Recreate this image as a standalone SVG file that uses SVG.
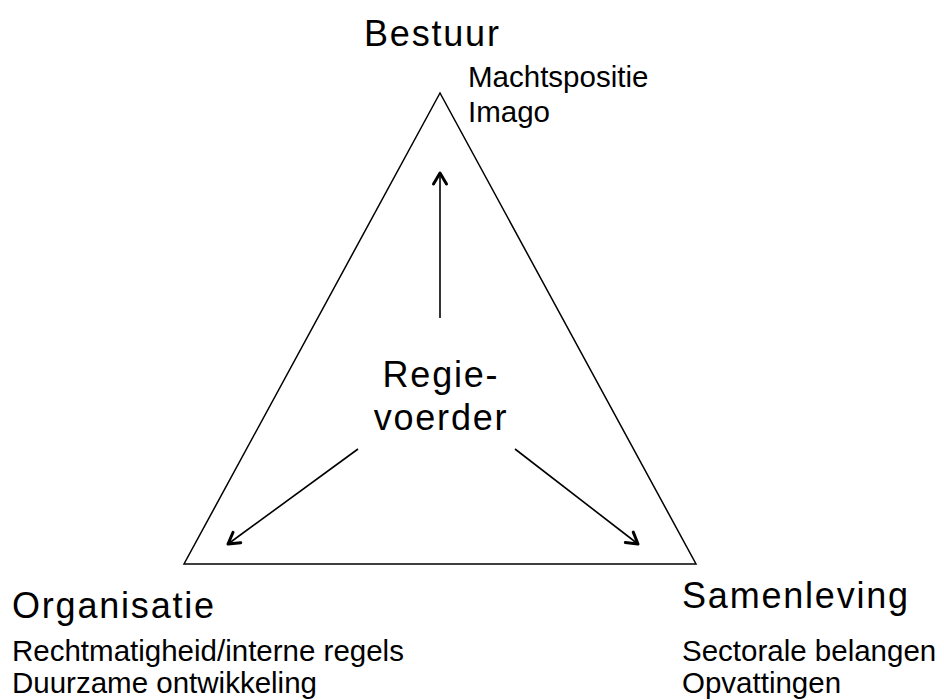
<svg xmlns="http://www.w3.org/2000/svg" width="944" height="700" viewBox="0 0 944 700">
<style>
text{font-family:"Liberation Sans",Arial,Helvetica,sans-serif;fill:#000}
.h{font-size:36px;letter-spacing:1.8px}
.s{font-size:29.5px}
.ln{fill:none;stroke:#000;stroke-width:1.6}
</style>
<defs>
<marker id="ah" markerUnits="userSpaceOnUse" markerWidth="20" markerHeight="20" refX="12" refY="7" orient="auto" overflow="visible">
<path d="M1,0.5 L12,7 L1,13.5" fill="none" stroke="#000" stroke-width="3" stroke-linecap="round" stroke-linejoin="round"/>
</marker>
</defs>
<rect width="944" height="700" fill="#fff"/>
<g id="triangle">
<polygon points="440,93 184,564 696,564" fill="none" stroke="#000" stroke-width="1.5"/>
</g>
<g id="bestuur">
<text class="h" x="364" y="46">Bestuur</text>
<text class="s" x="468" y="87" font-size="30">Machtspositie</text>
<text class="s" x="468" y="122" font-size="30">Imago</text>
</g>
<g id="organisatie">
<text class="h" x="12" y="618">Organisatie</text>
<text class="s" x="12" y="661" font-size="29">Rechtmatigheid/interne regels</text>
<text class="s" x="12" y="693" font-size="29">Duurzame ontwikkeling</text>
</g>
<g id="samenleving">
<text class="h" x="682" y="608">Samenleving</text>
<text class="s" x="682" y="661">Sectorale belangen</text>
<text class="s" x="682" y="693">Opvattingen</text>
</g>
<g id="regievoerder">
<text class="h" x="441" y="387" text-anchor="middle">Regie-</text>
<text class="h" x="441" y="430" text-anchor="middle">voerder</text>
</g>
<g id="connectors">
<line class="ln" x1="440" y1="318" x2="440" y2="173" marker-end="url(#ah)"/>
<line class="ln" x1="358" y1="449" x2="228" y2="544" marker-end="url(#ah)"/>
<line class="ln" x1="515" y1="449" x2="638" y2="544" marker-end="url(#ah)"/>
</g>
</svg>
